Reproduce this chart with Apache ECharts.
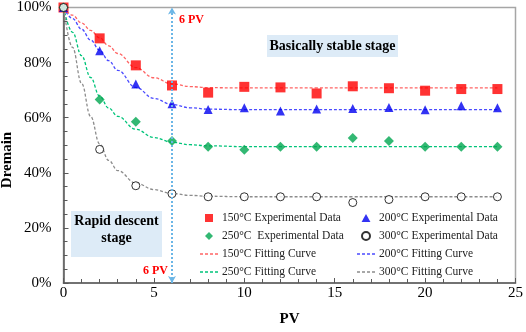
<!DOCTYPE html>
<html>
<head>
<meta charset="utf-8">
<script src="https://cdn.jsdelivr.net/npm/echarts@6/dist/echarts.min.js"></script>
<style>html,body{margin:0;padding:0;background:#fff;}#c{width:526px;height:332px;}</style>
</head>
<body>
<div id="c"></div>
<script>
// ---- data ----
var pvPoints = [0, 2, 4, 6, 8, 10, 12, 14, 16, 18, 20, 22, 24];
var exp150 = [100, 88.8, 79.0, 71.7, 69.1, 71.2, 71.0, 68.8, 71.4, 70.7, 69.8, 70.4, 70.4];
var exp200 = [100, 84.3, 72.2, 65.1, 63.0, 63.6, 62.4, 63.2, 63.3, 63.7, 62.9, 64.3, 63.6];
var exp250 = [100, 66.6, 58.5, 51.5, 49.5, 48.4, 49.5, 49.5, 52.6, 51.5, 49.5, 49.5, 49.5];
var exp300 = [100, 48.5, 35.3, 32.4, 31.3, 31.3, 31.3, 31.3, 29.2, 30.3, 31.3, 31.3, 31.3];

var fitX   = [0, 0.5, 1, 1.5, 2, 2.5, 3, 4, 5, 6, 7, 8, 10, 12, 14, 16, 18, 20, 22, 24];
var fit150 = [100, 97.2, 94.4, 91.7, 89.0, 86.1, 83.3, 78.2, 74.5, 72.3, 71.3, 70.9, 70.8, 70.8, 70.8, 70.8, 70.8, 70.8, 70.8, 70.8];
var fit200 = [100, 96.0, 92.1, 88.2, 84.5, 80.7, 77.2, 71.0, 67.0, 64.8, 63.6, 63.1, 62.9, 62.9, 62.9, 62.9, 62.9, 62.9, 62.9, 62.9];
var fit250 = [100, 91.0, 82.5, 74.6, 67.8, 63.5, 60.5, 55.8, 52.8, 51.1, 50.2, 49.8, 49.5, 49.5, 49.5, 49.5, 49.5, 49.5, 49.5, 49.5];
var fit300 = [100, 85.5, 72.5, 60.5, 50.5, 44.5, 40.8, 36.3, 33.9, 32.5, 31.8, 31.5, 31.3, 31.3, 31.3, 31.3, 31.3, 31.3, 31.3, 31.3];

var xTicks = {min: 0, max: 25, interval: 5};
var yTicks = {min: 0, max: 100, interval: 20};
var markPV = 6;

var names = {
  e150: '150°C Experimental Data', e200: '200°C Experimental Data',
  e250: '250°C  Experimental Data', e300: '300°C Experimental Data',
  f150: '150°C Fitting Curve', f200: '200°C Fitting Curve',
  f250: '250°C Fitting Curve', f300: '300°C Fitting Curve'
};

function pairs(xs, ys) { return xs.map(function (x, i) { return [x, ys[i]]; }); }

var SERIF = '"Liberation Serif", "Times New Roman", serif';
var ICON_DASH = 'path://M0,0h3v1.3h-3zM5,0h3v1.3h-3zM10,0h3v1.3h-3zM15,0h3v1.3h-3z';
var ICON_SQUARE = 'path://M0,0h10v10h-10z';
var ICON_DIAMOND = 'path://M5,0L10,5L5,10L0,5z';
var ICON_TRIANGLE = 'path://M5,0L10,9L0,9z';
var ICON_CIRCLE = 'path://M0,5a5,5 0 1,0 10,0a5,5 0 1,0 -10,0z';

function fitSeries(name, xs, ys, color) {
  return {
    name: name, type: 'line', data: pairs(xs, ys), symbol: 'none',
    smooth: 0.4, smoothMonotone: 'x', silent: true,
    lineStyle: {color: color, width: 1.3, type: [3, 2]},
    itemStyle: {color: color}, z: 2
  };
}
function expSeries(name, ys, symbol, size, style) {
  return {
    name: name, type: 'scatter', data: pairs(pvPoints, ys), symbol: symbol,
    symbolSize: size, itemStyle: style, z: 3
  };
}
function legendCol(items, left) {
  return {
    data: items, orient: 'vertical', left: left, top: 212, padding: 0,
    itemWidth: 18, itemHeight: 8, itemGap: 6, selectedMode: false, symbolKeepAspect: true,
    textStyle: {fontFamily: SERIF, fontSize: 11.5, color: '#222', padding: [0, 0, 0, -1]}
  };
}

var chart = echarts.init(document.getElementById('c'), null, {renderer: 'canvas'});

var option = {
  animation: false,
  backgroundColor: '#fff',
  grid: {left: 63.5, right: 8.5, top: 6.7, bottom: 43.7, show: true, borderColor: '#A6A6A6', borderWidth: 1.5},
  xAxis: {
    type: 'value', min: xTicks.min, max: xTicks.max, interval: xTicks.interval,
    name: 'PV', nameLocation: 'middle', nameGap: 29,
    nameTextStyle: {fontFamily: SERIF, fontSize: 15, fontWeight: 'bold', color: '#000'},
    axisLine: {show: true, lineStyle: {color: '#595959', width: 1.5}},
    axisTick: {show: true, inside: true, length: 5, lineStyle: {color: '#595959'}},
    minorTick: {show: true, splitNumber: 5, length: 4, lineStyle: {color: '#595959'}},
    axisLabel: {fontFamily: SERIF, fontSize: 15, color: '#000', margin: 3},
    splitLine: {show: false}
  },
  yAxis: {
    type: 'value', min: yTicks.min, max: yTicks.max, interval: yTicks.interval,
    axisLine: {show: true, lineStyle: {color: '#595959', width: 1.5}},
    axisTick: {show: true, inside: true, length: 5, lineStyle: {color: '#595959'}},
    minorTick: {show: true, splitNumber: 4, length: 4, lineStyle: {color: '#595959'}},
    axisLabel: {fontFamily: SERIF, fontSize: 15, color: '#000', margin: 12, formatter: '{value}%'},
    splitLine: {show: false}
  },
  legend: [
    legendCol([
      {name: names.e150, icon: ICON_SQUARE},
      {name: names.e250, icon: ICON_DIAMOND},
      {name: names.f150, icon: ICON_DASH},
      {name: names.f250, icon: ICON_DASH}
    ], 200),
    legendCol([
      {name: names.e200, icon: ICON_TRIANGLE},
      {name: names.e300, icon: ICON_CIRCLE},
      {name: names.f200, icon: ICON_DASH},
      {name: names.f300, icon: ICON_DASH}
    ], 357)
  ],
  series: [
    fitSeries(names.f150, fitX, fit150, '#FF6464'),
    fitSeries(names.f200, fitX, fit200, '#4B4BFF'),
    fitSeries(names.f250, fitX, fit250, '#00C47A'),
    fitSeries(names.f300, fitX, fit300, '#8C8C8C'),
    {
      name: 'marker', type: 'line', data: [], silent: true,
      markLine: {
        silent: true, symbol: ['arrow', 'arrow'], symbolSize: [6, 7],
        label: {show: false},
        lineStyle: {color: '#6BB6E6', width: 2, type: [2, 2]},
        data: [[{coord: [markPV, yTicks.min]}, {coord: [markPV, yTicks.max]}]]
      }
    },
    expSeries(names.e150, exp150, 'rect', 10, {color: '#FF0000'}),
    expSeries(names.e200, exp200, 'triangle', 9, {color: '#0000F0'}),
    expSeries(names.e250, exp250, 'diamond', 10, {color: '#00A650'}),
    expSeries(names.e300, exp300, 'circle', 8, {color: '#FFFFFF', borderColor: '#000', borderWidth: 1})
  ]
};
chart.setOption(option);

var top6 = chart.convertToPixel({gridIndex: 0}, [markPV, yTicks.max]);
var bot6 = chart.convertToPixel({gridIndex: 0}, [markPV, yTicks.min]);

chart.setOption({
  graphic: [
    {type: 'text', x: 7, y: 160, rotation: Math.PI / 2,
     style: {text: 'Dremain', align: 'center', verticalAlign: 'middle', font: 'bold 15px ' + SERIF, fill: '#000'}},
    {type: 'text', x: top6[0] + 7, y: top6[1] + 12,
     style: {text: '6 PV', align: 'left', verticalAlign: 'middle', font: 'bold 12px ' + SERIF, fill: '#FF0000'}},
    {type: 'text', x: bot6[0] - 4, y: bot6[1] - 12,
     style: {text: '6 PV', align: 'right', verticalAlign: 'middle', font: 'bold 12px ' + SERIF, fill: '#FF0000'}},
    {type: 'rect', shape: {x: 267, y: 35, width: 131, height: 22}, style: {fill: '#DDEBF7'}, z: 1},
    {type: 'text', x: 332.5, y: 46.5,
     style: {text: 'Basically stable stage', align: 'center', verticalAlign: 'middle', font: 'bold 14px ' + SERIF, fill: '#000'}, z: 2},
    {type: 'rect', shape: {x: 71, y: 211, width: 91, height: 46}, style: {fill: '#DDEBF7'}, z: 1},
    {type: 'text', x: 116.5, y: 230,
     style: {text: 'Rapid descent\nstage', align: 'center', verticalAlign: 'middle', lineHeight: 17, font: 'bold 14px ' + SERIF, fill: '#000'}, z: 2}
  ]
});
</script>
</body>
</html>
